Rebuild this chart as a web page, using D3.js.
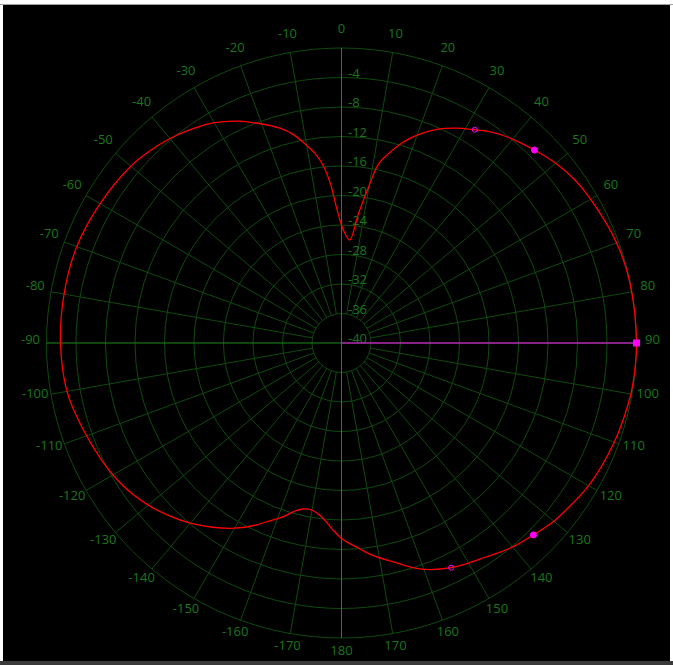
<!DOCTYPE html>
<html>
<head>
<meta charset="utf-8">
<script src="https://cdn.jsdelivr.net/npm/d3@7"></script>
<style>
  html, body { margin: 0; padding: 0; background: #ffffff; }
  svg { display: block; }
</style>
</head>
<body>
<script>
// ---- data ----
const angles = [-180, -177, -174, -170, -167, -165, -161, -158, -155, -150, -145, -140, -135, -130,
  -123, -116, -108, -100, -90, -80, -70, -60, -50, -45, -40, -35, -30, -25, -20, -16, -13,
  -10.5, -8, -6, -4, -2.2, 0, 1, 4.5, 7.5, 9.7, 11.7, 14, 16.3, 18, 20, 24, 28, 32, 35, 39,
  45, 50, 55, 60, 70, 78, 90, 98, 102, 110, 120, 127, 130, 135, 140, 146, 154, 161, 167, 172, 175];
const gains = [-13.5, -14.8, -16.1, -17.0, -16.9, -16.5, -15.0, -14.0, -12.8, -11.0, -9.5, -8.1, -6.9, -5.8,
  -4.6, -3.8, -3.0, -2.2, -1.9, -1.8, -1.8, -2.2, -2.7, -3.2, -3.8, -4.6, -5.5, -6.8, -8.4, -9.7, -11.0,
  -12.5, -14.0, -15.7, -18.3, -21.5, -24.0, -24.7, -26.0, -22.3, -18.8, -15.2, -13.5, -12.0, -11.0, -10.0, -8.3, -7.0, -5.9, -5.0, -4.1,
  -3.0, -2.1, -1.4, -1.0, -0.3, -0.05, 0, -0.1, -0.25, -0.65, -1.3, -2.1, -2.4, -3.2, -3.9, -5.0, -6.1, -7.6, -9.6, -11.0, -12.0];

const markerAngles = [32, 45, 135, 154];
const markerGains = [-5.9, -3.0, -3.2, -6.1];
const markerFilled = [false, true, true, false];
const peakAngle = 90;
const peakGain = 0;

const ringValues = [-36, -32, -28, -24, -20, -16, -12, -8, -4, 0];
const ringLabels = [-4, -8, -12, -16, -20, -24, -28, -32, -36, -40];
const spokeAngles = d3.range(-170, 181, 10);
const angleLabels = spokeAngles.map(a => String(a));

// ---- layout ----
const W = 673, H = 665;
const cx = 341.5, cy = 343, R = 295;
const gridColor = "#0f4a0f";
const axisColor = "#1c8a1c";
const textColor = "#1c761c";
const font = "'Open Sans', 'DejaVu Sans', sans-serif";

const svg = d3.select("body").append("svg").attr("width", W).attr("height", H);
svg.append("rect").attr("x", 0).attr("y", 0).attr("width", W).attr("height", H).attr("fill", "#ffffff");
svg.append("rect").attr("x", 0).attr("y", 4).attr("width", W).attr("height", 1).attr("fill", "#a0a0a0");
svg.append("rect").attr("x", 3).attr("y", 5).attr("width", 667).attr("height", 656).attr("fill", "#000000");
svg.append("rect").attr("x", 0).attr("y", 661).attr("width", W).attr("height", 4).attr("fill", "#3a3a3a");

const r = d3.scaleLinear().domain([-40, 0]).range([0, R]);
const toRad = a => a * Math.PI / 180;

const g = svg.append("g").attr("transform", `translate(${cx},${cy})`);

// rings
g.selectAll("circle.ring").data(ringValues).join("circle")
  .attr("class", "ring")
  .attr("r", d => r(d))
  .attr("fill", "none").attr("stroke", gridColor).attr("stroke-width", 1);

// spokes (except main axes)
const rIn = r(-36);
g.selectAll("line.spoke").data(spokeAngles.filter(a => a % 90 !== 0)).join("line")
  .attr("class", "spoke")
  .attr("x1", a => rIn * Math.sin(toRad(a))).attr("y1", a => -rIn * Math.cos(toRad(a)))
  .attr("x2", a => R * Math.sin(toRad(a))).attr("y2", a => -R * Math.cos(toRad(a)))
  .attr("stroke", gridColor).attr("stroke-width", 1);

// main axes through centre
g.append("line").attr("x1", 0).attr("y1", -R).attr("x2", 0).attr("y2", R)
  .attr("stroke", axisColor).attr("stroke-width", 1);
g.append("line").attr("x1", -R).attr("y1", 0).attr("x2", R).attr("y2", 0)
  .attr("stroke", axisColor).attr("stroke-width", 1);

// radial labels: baseline on the ring of the same value (-40 at centre)
g.selectAll("text.rl").data(ringLabels).join("text")
  .attr("class", "rl")
  .attr("x", 6.5)
  .attr("y", d => -r(d))
  .attr("fill", textColor)
  .attr("font-family", font)
  .attr("font-size", 13)
  .text(d => d);

// angle labels
const rLab = 311;
g.selectAll("text.al").data(spokeAngles).join("text")
  .attr("class", "al")
  .attr("x", a => rLab * Math.sin(toRad(a)))
  .attr("y", a => -rLab * Math.cos(toRad(a)) + 1)
  .attr("text-anchor", "middle")
  .attr("fill", textColor)
  .attr("font-family", font)
  .attr("font-size", 13)
  .text((a, i) => angleLabels[i]);

// pattern curve
const pts = angles.map((a, i) => ({ a, g: gains[i] }));
const line = d3.lineRadial()
  .angle(d => toRad(d.a))
  .radius(d => r(d.g))
  .curve(d3.curveCatmullRomClosed.alpha(0.5));
g.append("path").datum(pts).attr("d", line)
  .attr("fill", "none").attr("stroke", "#ff0000").attr("stroke-width", 1.3);

// peak line and marker
const px = r(peakGain) * Math.sin(toRad(peakAngle));
const py = -r(peakGain) * Math.cos(toRad(peakAngle));
g.append("line").attr("x1", 0).attr("y1", 0).attr("x2", px).attr("y2", py)
  .attr("stroke", "#ff00ff").attr("stroke-width", 1.2);
g.append("rect").attr("x", px - 3.5).attr("y", py - 3.5)
  .attr("width", 7).attr("height", 7).attr("fill", "#ff00ff");

// -3 dB / -6 dB markers
g.selectAll("circle.mk").data(markerAngles).join("circle")
  .attr("class", "mk")
  .attr("cx", (a, i) => r(markerGains[i]) * Math.sin(toRad(a)))
  .attr("cy", (a, i) => -r(markerGains[i]) * Math.cos(toRad(a)))
  .attr("r", (a, i) => markerFilled[i] ? 3 : 2.5)
  .attr("fill", (a, i) => markerFilled[i] ? "#ff00ff" : "none")
  .attr("stroke", "#ff00ff").attr("stroke-width", 1);
</script>
</body>
</html>
